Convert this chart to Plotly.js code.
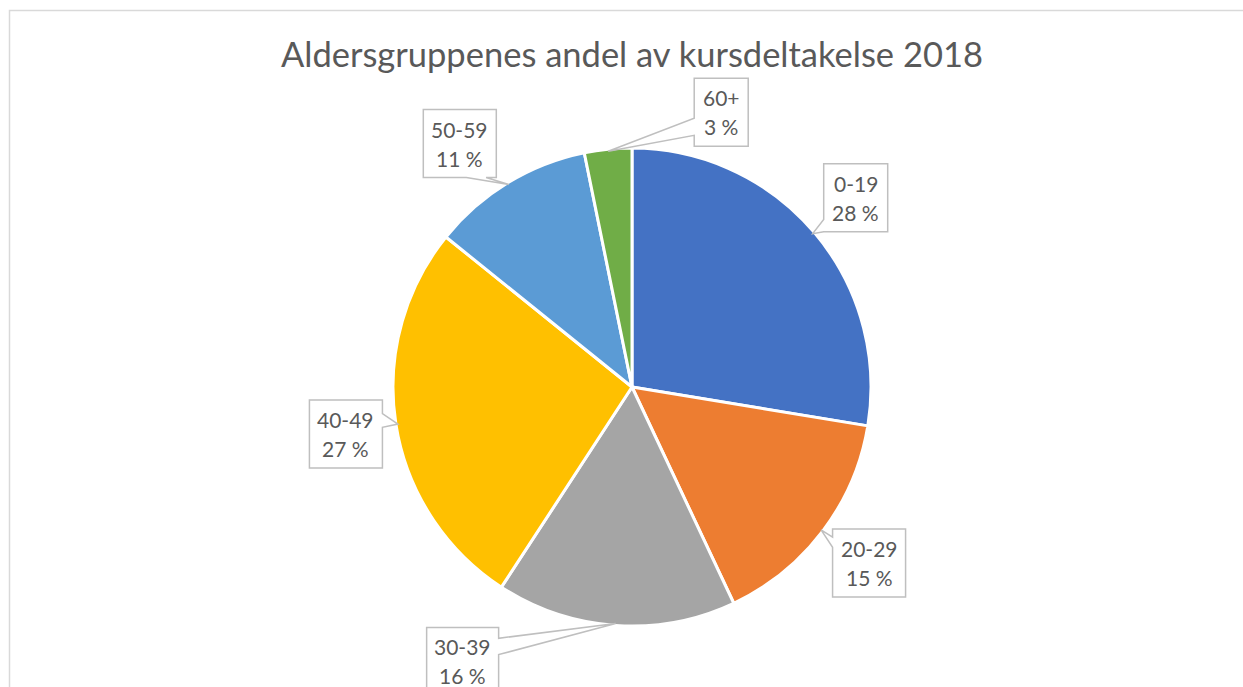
<!DOCTYPE html>
<html>
<head>
<meta charset="utf-8">
<script src="https://cdn.plot.ly/plotly-3.0.1.min.js"></script>
<style>html,body{margin:0;padding:0;background:#fff;}#chart{width:1243px;height:687px;}</style>
</head>
<body>
<div id="chart"></div>
<script>
// ---- data ----
const categories = ['0-19', '20-29', '30-39', '40-49', '50-59', '60+'];
const shares = [27.6, 15.4, 16.2, 26.6, 11.0, 3.2];
const colors = ['#4472C4', '#ED7D31', '#A5A5A5', '#FFC000', '#5B9BD5', '#70AD47'];
const chartTitle = 'Aldersgruppenes andel av kursdeltakelse 2018';

// ---- layout geometry (pixels) ----
const W = 1243, H = 687;
const CX = 632, CY = 387, R = 237;
const BOX_H = 68;
// callout styling: box offset from slice tip, width, side of pointer, pointer base fractions
const calloutStyle = [
  {dx: 43, dy: -36, w: 64, side: 'left', a: 0.82, b: 1.0},
  {dx: 48, dy: 33, w: 73, side: 'left', a: 0.12, b: 0.27},
  {dx: -153, dy: 38, w: 72, side: 'right', a: 0.16, b: 0.40},
  {dx: -52, dy: 10, w: 73, side: 'right', a: 0.20, b: 0.40},
  {dx: -49, dy: -41, w: 73, side: 'bottom', a: 0.59, b: 0.86},
  {dx: 113, dy: -39, w: 54, side: 'left', a: 0.59, b: 0.84}
];

const px = x => x / W;
const py = y => 1 - y / H;

const total = shares.reduce((s, v) => s + v, 0);
const shapes = [];
const annotations = [];

// outer chart border
shapes.push({type: 'rect', xref: 'paper', yref: 'paper', x0: px(9.5), x1: 1.02, y0: -0.02, y1: py(10.5),
  line: {color: '#D9D9D9', width: 1.5}, fillcolor: 'rgba(0,0,0,0)', layer: 'below'});

let cum = 0;
shares.forEach((v, i) => {
  const theta = (cum + v / 2) / total * 2 * Math.PI;
  cum += v;
  const tx = CX + R * Math.sin(theta);
  const ty = CY - R * Math.cos(theta);
  const st = calloutStyle[i];
  const bcx = tx + st.dx, bcy = ty + st.dy;
  const L = bcx - st.w / 2, Rr = bcx + st.w / 2, T = bcy - BOX_H / 2, B = bcy + BOX_H / 2;
  const pts = [[L, T], [Rr, T]];
  if (st.side === 'right') pts.push([Rr, T + st.a * BOX_H], [tx, ty], [Rr, T + st.b * BOX_H]);
  pts.push([Rr, B]);
  if (st.side === 'bottom') pts.push([L + st.b * st.w, B], [tx, ty], [L + st.a * st.w, B]);
  pts.push([L, B]);
  if (st.side === 'left') pts.push([L, T + st.b * BOX_H], [tx, ty], [L, T + st.a * BOX_H]);
  const path = 'M ' + pts.map(p => px(p[0]).toFixed(5) + ',' + py(p[1]).toFixed(5)).join(' L ') + ' Z';
  shapes.push({type: 'path', xref: 'paper', yref: 'paper', path: path,
    line: {color: '#BFBFBF', width: 1.5}, fillcolor: '#FFFFFF', layer: 'above'});
  const pct = Math.round(v / total * 100) + ' %';
  [[categories[i], -14.5], [pct, 14.5]].forEach(([txt, off]) => {
    annotations.push({xref: 'paper', yref: 'paper', x: px(bcx), y: py(bcy + off),
      xanchor: 'center', yanchor: 'middle', text: txt, showarrow: false,
      font: {family: 'Lato, Open Sans, sans-serif', size: 21, color: '#595959'}});
  });
});

const trace = {
  type: 'pie',
  labels: categories,
  values: shares,
  marker: {colors: colors, line: {color: '#FFFFFF', width: 3}},
  sort: false,
  direction: 'clockwise',
  rotation: 0,
  textinfo: 'none',
  hoverinfo: 'label+percent',
  showlegend: false,
  domain: {x: [px(CX - R - 2), px(CX + R + 2)], y: [py(CY + R + 2), py(CY - R - 2)]}
};

const layout = {
  width: W, height: H,
  margin: {l: 0, r: 0, t: 0, b: 0},
  paper_bgcolor: '#FFFFFF',
  title: {text: chartTitle, x: px(632), xanchor: 'center', y: py(55), yanchor: 'middle',
    font: {family: 'Lato, Open Sans, sans-serif', size: 34.5, color: '#595959'}},
  shapes: shapes,
  annotations: annotations
};

Plotly.newPlot('chart', [trace], layout, {displayModeBar: false, staticPlot: true});
</script>
</body>
</html>
